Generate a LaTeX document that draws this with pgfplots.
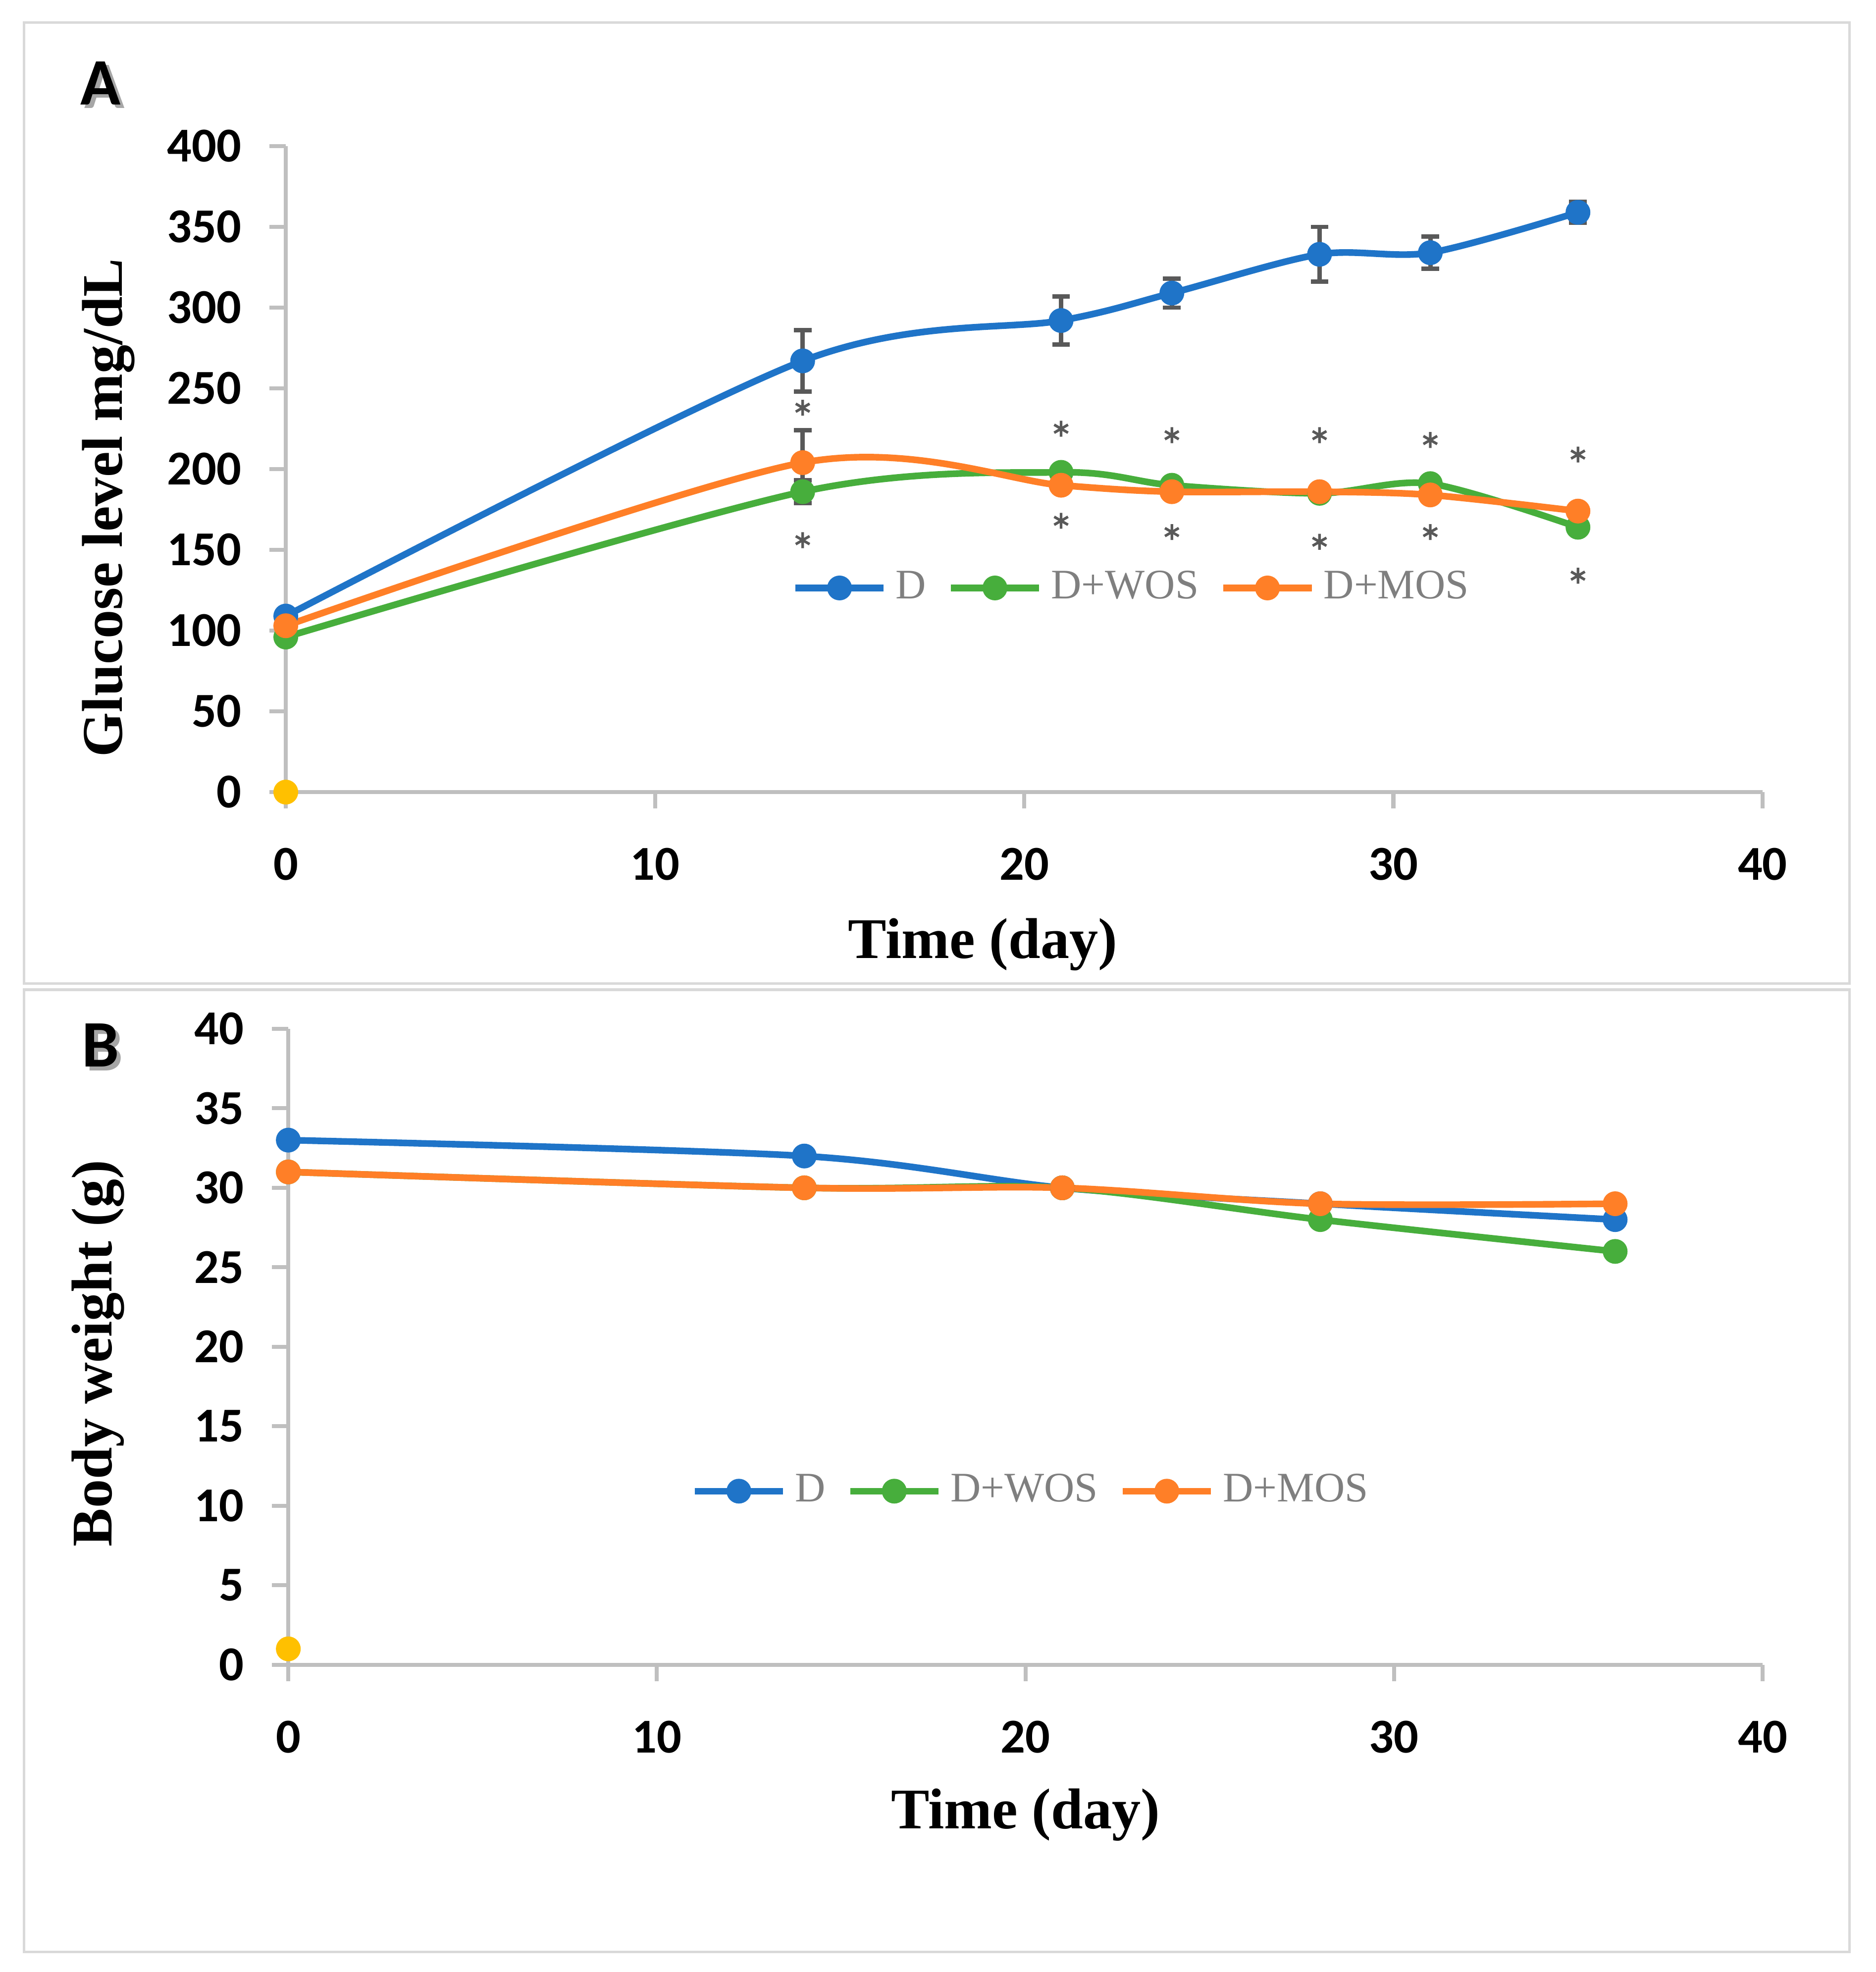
\documentclass[border=0pt]{standalone}
\usepackage{fontspec}
\setmainfont{Liberation Serif}
\newfontfamily\calib{Carlito}
\usepackage{pgfplots}
\pgfplotsset{compat=1.18}

\definecolor{cD}{HTML}{1F74C8}
\definecolor{cW}{HTML}{47AE3C}
\definecolor{cM}{HTML}{FF7F27}
\definecolor{cY}{HTML}{FFC000}
\definecolor{errc}{HTML}{595959}
\definecolor{axc}{HTML}{BFBFBF}
\definecolor{frc}{HTML}{D9D9D9}
\definecolor{legt}{HTML}{7F7F7F}

\pgfplotsset{
  panel/.style={
    scale only axis, clip=false,
    xmin=0, xmax=40, xtick={0,10,...,40},
    axis x line*=bottom, axis y line*=left,
    axis line style={axc, line width=0.9pt},
    tick style={axc, line width=0.9pt},
    tick align=outside, major tick length=0.13cm,
    /pgf/number format/assume math mode=true,
    tick label style={font=\calib\bfseries\fontsize{11}{13}\selectfont},
    xticklabel style={yshift=-0.19cm},
    yticklabel style={xshift=-0.1cm},
    label style={font=\bfseries\fontsize{13}{15}\selectfont},
    legend columns=3,
    legend style={draw=none, fill=none, font=\fontsize{9.5}{11}\selectfont,
      text=legt, anchor=center,
      /tikz/every even column/.append style={column sep=0.1cm}},
    legend image code/.code={\draw[#1, mark repeat=2, mark phase=2]
      plot coordinates {(0cm,0cm) (0.35cm,0cm) (0.7cm,0cm)};},
  },
  ser/.style={color=#1, line width=1.5pt, smooth, mark=*, mark size=2.6pt,
    mark options={solid, fill=#1, line width=0.4pt}},
  ebar/.style={error bars/.cd, y dir=both, y explicit,
    error bar style={errc, line width=1pt, solid},
    error mark options={errc, rotate=90, mark size=2pt, line width=1pt}},
  stars/.style={only marks, mark=asterisk, mark size=1.8pt, color=errc,
    line width=0.6pt, forget plot},
  yel/.style={only marks, mark=*, mark size=2.6pt, color=cY, forget plot},
}

\begin{document}
\begin{tikzpicture}
\path (0,0) rectangle (14.9cm,-15.66cm);
\draw[frc, line width=0.6pt] (0.19cm,-0.18cm) rectangle (14.69cm,-7.81cm);
\draw[frc, line width=0.6pt] (0.19cm,-7.86cm) rectangle (14.69cm,-15.50cm);

\node[font=\calib\bfseries\fontsize{15}{18}\selectfont, text=black!35] at (0.83cm,-0.69cm) {A};
\node[font=\calib\bfseries\fontsize{15}{18}\selectfont] at (0.80cm,-0.66cm) {A};
\node[font=\calib\bfseries\fontsize{15}{18}\selectfont, text=black!35] at (0.83cm,-8.33cm) {B};
\node[font=\calib\bfseries\fontsize{15}{18}\selectfont] at (0.80cm,-8.30cm) {B};

% panel A: glucose
\begin{axis}[panel, at={(2.27cm,-6.29cm)}, anchor=south west,
  width=11.73cm, height=5.13cm,
  ymin=0, ymax=400, ytick={0,50,...,400},
  xlabel={Time (day)}, ylabel={Glucose level mg/dL},
  xlabel style={at={(axis description cs:0.472,-0.236)}, anchor=center},
  ylabel style={at={(axis description cs:-0.120,0.44)}, anchor=center},
  legend style={at={(0.575,0.316)}}]
\addplot[stars] coordinates {(14,238) (21,225) (24,221) (28,221) (31,218) (35,209)
  (14,156) (21,168) (24,161) (28,155) (31,161) (35,134)};
\addplot[ser=cD, ebar] coordinates {
  (0,109) +- (0,0) (14,267) +- (0,19) (21,292) +- (0,15) (24,309) +- (0,9)
  (28,333) +- (0,17) (31,334) +- (0,10) (35,359) +- (0,6.5)};
\addplot[ser=cW, ebar] coordinates {
  (0,96) +- (0,0) (14,186) +- (0,7) (21,198) +- (0,0) (24,190) +- (0,0)
  (28,185) +- (0,0) (31,191) +- (0,0) (35,164) +- (0,0)};
\addplot[ser=cM, ebar] coordinates {
  (0,103) +- (0,0) (14,204) +- (0,20) (21,190) +- (0,0) (24,186) +- (0,0)
  (28,186) +- (0,0) (31,184) +- (0,0) (35,174) +- (0,0)};
\addplot[yel] coordinates {(0,0)};
\legend{D, D+WOS, D+MOS}
\end{axis}

% panel B: body weight
\begin{axis}[panel, at={(2.29cm,-13.22cm)}, anchor=south west,
  width=11.71cm, height=5.05cm,
  ymin=0, ymax=40, ytick={0,5,...,40},
  xlabel={Time (day)}, ylabel={Body weight (g)},
  xlabel style={at={(axis description cs:0.500,-0.236)}, anchor=center},
  ylabel style={at={(axis description cs:-0.129,0.49)}, anchor=center},
  legend style={at={(0.506,0.273)}}]
\addplot[ser=cD] coordinates {(0,33) (14,32) (21,30) (28,29) (36,28)};
\addplot[ser=cW] coordinates {(0,31) (14,30) (21,30) (28,28) (36,26)};
\addplot[ser=cM] coordinates {(0,31) (14,30) (21,30) (28,29) (36,29)};
\addplot[yel] coordinates {(0,1)};
\legend{D, D+WOS, D+MOS}
\end{axis}
\end{tikzpicture}
\end{document}
